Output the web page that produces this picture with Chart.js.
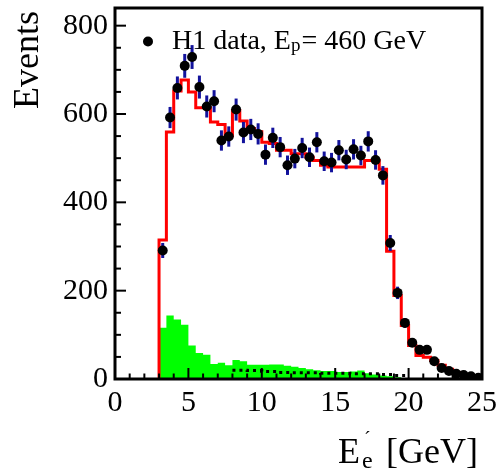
<!DOCTYPE html>
<html lang="en">
<head>
  <meta charset="UTF-8" />
  <title>H1 scattered electron energy</title>
  <script src="https://cdn.jsdelivr.net/npm/chart.js"></script>
  <style>
    body { margin: 0; background: #fff; }
    #wrap { width: 497px; height: 472px; }
  </style>
</head>
<body>
  <div id="wrap"><canvas id="chart" width="497" height="472"></canvas></div>

  <script>
    // bin edges of the histograms [GeV]
    const binEdges = [3, 3.5, 4, 4.5, 5, 5.5, 6, 6.5, 7, 7.5, 8, 8.5, 9, 9.5, 10, 10.5, 11, 11.5, 12, 12.5,
      13, 13.5, 14, 14.5, 15, 15.5, 16, 16.5, 17, 17.5, 18, 18.5, 19, 19.5, 20, 20.5, 21, 21.5, 22, 22.5,
      23, 23.5, 24, 24.5, 25];

    // H1 data (events per bin) and their errors
    const dataVals = [291, 592, 659, 709, 729, 661, 617, 629, 540, 549, 610, 558, 565, 555, 508, 546, 525, 484, 499, 523,
      502, 536, 493, 490, 518, 497, 520, 506, 538, 496, 461, 308, 195, 127, 82, 66, 66, 40, 25, 18,
      12, 9, 6, 3];
    const dataErrs = [17, 24, 26, 27, 27, 26, 25, 25, 23, 23, 25, 24, 24, 24, 23, 23, 23, 22, 22, 23,
      22, 23, 22, 22, 23, 22, 23, 22, 23, 22, 21, 18, 14, 11, 9, 8, 8, 6, 5, 4,
      3, 3, 2, 2];

    // simulation (red line)
    const mcVals = [315, 559, 652, 677, 650, 614, 614, 582, 576, 551, 608, 584, 567, 560, 536, 533, 518, 518, 510, 510,
      502, 495, 484, 480, 480, 480, 480, 480, 495, 495, 475, 289, 189, 121, 76, 53, 49, 42, 31, 22,
      15, 9, 5, 2];

    // background (green), same edges starting at 3 GeV
    const bgVals = [116, 144, 135, 123, 76, 59, 55, 34, 37, 31, 43, 40, 32, 32, 32, 33, 33, 30, 28, 25,
      22, 20, 18, 18, 16, 16, 17, 19, 13, 10, 8, 6, 4];

    // dotted black line
    const dotEdges = [8, 9, 10, 11, 12, 13, 14, 15, 16, 17, 18, 19, 20];
    const dotVals = [20, 19, 17, 15, 14, 14, 13, 13, 12, 12, 10, 8];

    // axis labels
    const xTickVals = [0, 5, 10, 15, 20, 25];
    const yTickVals = [0, 200, 400, 600, 800];

    const SERIF = '"Liberation Serif", "DejaVu Serif", "Times New Roman", serif';

    const dataPts = dataVals.map((v, i) => ({ x: (binEdges[i] + binEdges[i + 1]) / 2, y: v }));

    function stepPts(edges, vals, startZero) {
      const pts = [];
      if (startZero) pts.push({ x: edges[0], y: 0 });
      vals.forEach((v, i) => pts.push({ x: edges[i], y: v }));
      pts.push({ x: edges[vals.length], y: vals[vals.length - 1] });
      return pts;
    }
    const mcPts = stepPts(binEdges, mcVals, true);
    const dotPts = stepPts(dotEdges, dotVals, false);
    const bgPts = stepPts(binEdges, bgVals, false);
    bgPts.push({ x: binEdges[bgVals.length], y: 0 });

    const decor = {
      id: 'decor',
      beforeDatasetDraw(chart, args) {
        if (args.index !== 0) return;
        const xs = chart.scales.x, ys = chart.scales.y, ctx = chart.ctx;
        ctx.save();
        ctx.strokeStyle = '#12129c';
        ctx.lineWidth = 3;
        dataPts.forEach((p, i) => {
          const px = xs.getPixelForValue(p.x);
          ctx.beginPath();
          ctx.moveTo(px, ys.getPixelForValue(p.y - dataErrs[i]));
          ctx.lineTo(px, ys.getPixelForValue(p.y + dataErrs[i]));
          ctx.stroke();
        });
        ctx.restore();
      },
      afterDraw(chart) {
        const xs = chart.scales.x, ys = chart.scales.y, ctx = chart.ctx;
        const a = chart.chartArea;
        ctx.save();
        ctx.strokeStyle = '#000';
        ctx.lineWidth = 2;
        // ticks pointing inwards
        for (let v = 50; v <= 800; v += 50) {
          const py = ys.getPixelForValue(v);
          const len = v % 200 === 0 ? 11 : 6;
          ctx.beginPath(); ctx.moveTo(a.left, py); ctx.lineTo(a.left + len, py); ctx.stroke();
        }
        for (let v = 1; v < 25; v++) {
          const px = xs.getPixelForValue(v);
          const len = v % 5 === 0 ? 11 : 5.5;
          ctx.beginPath(); ctx.moveTo(px, a.bottom); ctx.lineTo(px, a.bottom - len); ctx.stroke();
        }
        // frame
        ctx.lineWidth = 3;
        ctx.strokeRect(a.left, a.top, a.right - a.left, a.bottom - a.top);

        // legend
        ctx.fillStyle = '#000';
        ctx.beginPath(); ctx.arc(148, 41.5, 5, 0, Math.PI * 2); ctx.fill();
        ctx.textAlign = 'left';
        ctx.textBaseline = 'alphabetic';
        ctx.font = '28px ' + SERIF;
        let x = 172;
        ctx.fillText('H1 data, E', x, 48.5);
        x += ctx.measureText('H1 data, E').width;
        ctx.font = '19px ' + SERIF;
        ctx.fillText('p', x, 51);
        x += ctx.measureText('p').width;
        ctx.font = '28px ' + SERIF;
        ctx.fillText('= 460 GeV', x + 1, 48.5);

        // y title
        ctx.save();
        ctx.translate(38, 60);
        ctx.rotate(-Math.PI / 2);
        ctx.textAlign = 'center';
        ctx.font = '36px ' + SERIF;
        ctx.fillText('Events', 0, 0);
        ctx.restore();

        // x title  E'_e [GeV]
        ctx.textAlign = 'left';
        ctx.font = '36px ' + SERIF;
        ctx.fillText('E', 338, 463);
        ctx.font = '24px ' + SERIF;
        ctx.fillText('e', 362, 468);
        ctx.font = '20px ' + SERIF;
        ctx.fillText('\u00B4', 364, 446);
        ctx.font = '36px ' + SERIF;
        ctx.fillText('[GeV]', 386, 463);
        ctx.restore();
      }
    };

    new Chart(document.getElementById('chart'), {
      type: 'line',
      data: {
        datasets: [
          {
            label: 'H1 data',
            data: dataPts,
            showLine: false,
            pointRadius: 5,
            pointHoverRadius: 5,
            pointBackgroundColor: '#000',
            pointBorderWidth: 0
          },
          {
            label: 'MC',
            data: mcPts,
            stepped: true,
            borderColor: '#ff0000',
            borderWidth: 3,
            pointRadius: 0,
            fill: false
          },
          {
            label: 'dotted',
            data: dotPts,
            stepped: true,
            borderColor: '#000',
            borderWidth: 3,
            borderDash: [3, 4],
            pointRadius: 0,
            fill: false
          },
          {
            label: 'background',
            data: bgPts,
            stepped: true,
            borderWidth: 0,
            borderColor: 'rgba(0,0,0,0)',
            backgroundColor: '#00ff00',
            fill: 'origin',
            pointRadius: 0
          }
        ]
      },
      options: {
        responsive: false,
        animation: false,
        devicePixelRatio: 1,
        layout: { padding: { left: 0, right: 15, top: 8, bottom: 0 } },
        plugins: { legend: { display: false }, tooltip: { enabled: false } },
        scales: {
          x: {
            type: 'linear',
            min: 0,
            max: 25,
            grid: { display: false, drawTicks: false },
            border: { display: false },
            ticks: { padding: 6, maxRotation: 0, autoSkip: false, color: '#000', font: { family: SERIF, size: 30 } },
            afterBuildTicks(s) { s.ticks = xTickVals.map(v => ({ value: v })); },
            afterFit(s) { s.height = 93; s.paddingLeft = 0; s.paddingRight = 0; }
          },
          y: {
            type: 'linear',
            min: 0,
            max: 840,
            grid: { display: false, drawTicks: false },
            border: { display: false },
            ticks: { padding: 7, autoSkip: false, color: '#000', font: { family: SERIF, size: 30 } },
            afterBuildTicks(s) { s.ticks = yTickVals.map(v => ({ value: v })); },
            afterFit(s) { s.width = 115; s.paddingTop = 0; s.paddingBottom = 0; }
          }
        }
      },
      plugins: [decor]
    });
  </script>
</body>
</html>
